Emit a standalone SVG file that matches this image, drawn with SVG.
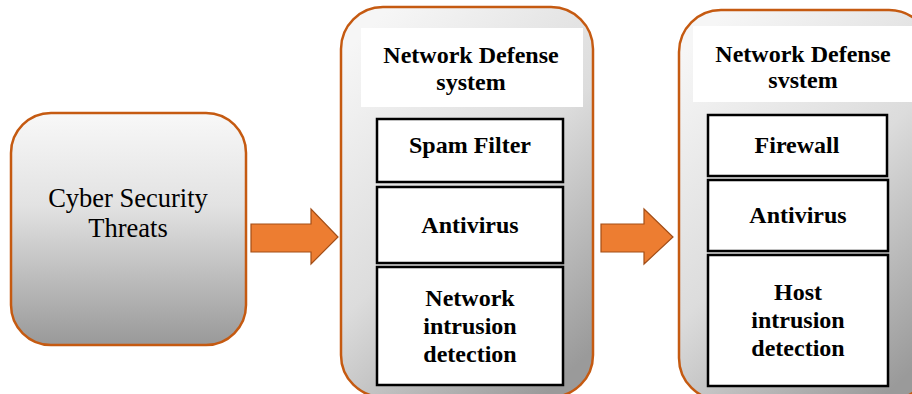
<svg xmlns="http://www.w3.org/2000/svg" width="912" height="394" viewBox="0 0 912 394">
<defs>
<linearGradient id="g1" x1="0" y1="0" x2="0" y2="1">
<stop offset="0" stop-color="#f8f8f8"/>
<stop offset="0.4" stop-color="#e2e2e2"/>
<stop offset="1" stop-color="#999999"/>
</linearGradient>
<linearGradient id="g2" x1="0.2" y1="0" x2="0.8" y2="1">
<stop offset="0" stop-color="#f6f6f6"/>
<stop offset="0.5" stop-color="#dcdcdc"/>
<stop offset="1" stop-color="#9a9a9a"/>
</linearGradient>
</defs>
<style>
.cont{stroke:#C55A11;stroke-width:2.5;fill:url(#g2)}
.hdr{fill:#ffffff}
.box{fill:#ffffff;stroke:#000;stroke-width:2.5}
.t{font-family:"Liberation Serif","Times New Roman",serif;font-weight:bold;font-size:24px;fill:#000;text-anchor:middle}
.arr{fill:#ED7D31;stroke:#A34E17;stroke-width:1.2}
</style>
<g id="threats">
<rect x="11" y="113" width="235" height="232" rx="40" ry="40" fill="url(#g1)" stroke="#C55A11" stroke-width="2.5"/>
<text x="128" y="207" font-family="'Liberation Serif', 'Times New Roman', serif" font-size="26.5" text-anchor="middle" fill="#000">Cyber Security</text>
<text x="128" y="237" font-family="'Liberation Serif', 'Times New Roman', serif" font-size="26.5" text-anchor="middle" fill="#000">Threats</text>
</g>
<g id="nds1">
<rect class="cont" x="341" y="7" width="252" height="390" rx="42" ry="42"/>
<rect class="hdr" x="361" y="28" width="222" height="79"/>
<text class="t" x="471" y="63">Network Defense</text>
<text class="t" x="471" y="90">system</text>
</g>
<g id="spam">
<rect class="box" x="377" y="119" width="186" height="63"/>
<text class="t" x="470" y="153">Spam Filter</text>
</g>
<g id="antivirus1">
<rect class="box" x="377" y="187" width="186" height="76"/>
<text class="t" x="470" y="233">Antivirus</text>
</g>
<g id="nid">
<rect class="box" x="377" y="267" width="186" height="118"/>
<text class="t" x="470" y="306">Network</text>
<text class="t" x="470" y="334">intrusion</text>
<text class="t" x="470" y="362">detection</text>
</g>
<g id="nds2">
<rect class="cont" x="679" y="10" width="252" height="390" rx="42" ry="42"/>
<rect class="hdr" x="693" y="26" width="228" height="76"/>
<text class="t" x="803" y="62">Network Defense</text>
<text class="t" x="803" y="88">svstem</text>
</g>
<g id="firewall">
<rect class="box" x="708" y="115" width="179" height="61"/>
<text class="t" x="797" y="153">Firewall</text>
</g>
<g id="antivirus2">
<rect class="box" x="708" y="180" width="180" height="71"/>
<text class="t" x="798" y="223">Antivirus</text>
</g>
<g id="hid">
<rect class="box" x="708" y="255" width="180" height="131"/>
<text class="t" x="798" y="300">Host</text>
<text class="t" x="798" y="328">intrusion</text>
<text class="t" x="798" y="356">detection</text>
</g>
<g id="connectors">
<polygon class="arr" points="251,224 311,224 311,209 338,237 311,264 311,252 251,252"/>
<polygon class="arr" points="601,224 644,224 644,209 673,237 644,264 644,252 601,252"/>
</g>
</svg>
